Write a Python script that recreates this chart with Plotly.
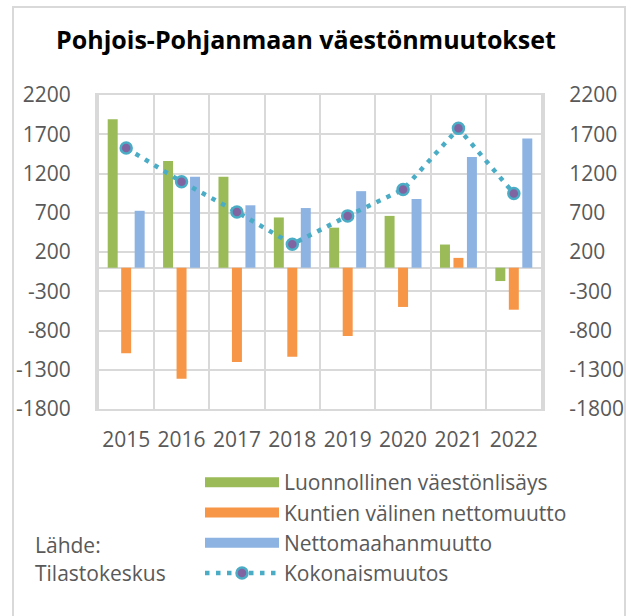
import plotly.graph_objects as go

years = ["2015", "2016", "2017", "2018", "2019", "2020", "2021", "2022"]
luonnollinen = [1890, 1360, 1160, 640, 510, 660, 295, -170]
kuntien = [-1090, -1415, -1200, -1135, -870, -500, 125, -535]
nettomaahan = [725, 1160, 795, 760, 975, 875, 1410, 1645]
kokonais = [1525, 1095, 710, 300, 660, 995, 1775, 945]
y_ticks = [-1800, -1300, -800, -300, 200, 700, 1200, 1700, 2200]

names = ["Luonnollinen väestönlisäys", "Kuntien välinen nettomuutto",
         "Nettomaahanmuutto", "Kokonaismuutos"]
colors = ["#9BBB59", "#F79646", "#8DB3E2"]
line_color = "#4BACC6"
marker_color = "#8064A2"
grid = "#D9D9D9"
txt = "#595959"
FONT = "'Open Sans', Lato, sans-serif"

fig = go.Figure()
for vals, nm, c in zip([luonnollinen, kuntien, nettomaahan], names[:3], colors):
    fig.add_trace(go.Bar(x=years, y=vals, name=nm, marker=dict(color=c, line=dict(width=0)),
                         showlegend=False))
# legend proxies (wide swatches)
for i, (nm, c) in enumerate(zip(names[:3], colors)):
    fig.add_trace(go.Scatter(x=[None], y=[None], mode="lines", name=nm,
                             line=dict(color=c, width=16), legendgroup=f"g{i}",
                             showlegend=True))
fig.add_trace(go.Scatter(x=years, y=kokonais, name=names[3], mode="lines+markers",
                         yaxis="y2", legendgroup="g3",
                         line=dict(color=line_color, width=4.5, dash="4.5px,6.5px"),
                         marker=dict(color=marker_color, size=11,
                                     line=dict(color=line_color, width=2.5))))

W, H = 627, 616
L, R, T, B = 97, 543, 95, 409
pw, ph = R - L, B - T

def px(x):
    return (x - L) / pw

def py(y):
    return (B - y) / ph

yax = dict(range=[-1800, 2200], tickvals=y_ticks, ticktext=[str(v) for v in y_ticks],
           showgrid=True, gridcolor=grid,
           gridwidth=2, zeroline=True, zerolinecolor=grid, zerolinewidth=2,
           showline=True, linecolor=grid, linewidth=2,
           ticks="outside", ticklen=20, tickcolor="rgba(0,0,0,0)",
           tickfont=dict(family=FONT, size=21, color=txt))

fig.update_layout(
    width=W, height=H,
    margin=dict(l=L, r=W - R, t=T, b=H - B, autoexpand=False),
    paper_bgcolor="white", plot_bgcolor="white",
    title=dict(text="<b>Pohjois-Pohjanmaan väestönmuutokset</b>", x=306 / W, xref="container",
               xanchor="center", y=1 - 40 / H, yref="container", yanchor="middle",
               font=dict(family=FONT, size=25, color="#000000")),
    barmode="group", bargap=0.27, bargroupgap=0.26,
    xaxis=dict(type="category", tickson="boundaries", showgrid=True, gridcolor=grid, gridwidth=2,
               showline=True, linecolor=grid, linewidth=2, mirror=True, tickangle=0,
               ticks="", ticklabelstandoff=11,
               tickfont=dict(family=FONT, size=21, color=txt)),
    yaxis=yax,
    yaxis2=dict(yax, overlaying="y", side="right", showgrid=False, zeroline=False),
    legend=dict(x=px(200), xanchor="left", y=py(462), yanchor="top",
                font=dict(family=FONT, size=21, color=txt), itemwidth=74,
                traceorder="grouped", tracegroupgap=0, bgcolor="rgba(0,0,0,0)"),
    showlegend=True,
    annotations=[
        dict(text="Lähde:", x=px(33), y=py(545), xref="paper", yref="paper", xanchor="left",
             yanchor="middle", showarrow=False, font=dict(family=FONT, size=21, color=txt)),
        dict(text="Tilastokeskus", x=px(33), y=py(573), xref="paper", yref="paper", xanchor="left",
             yanchor="middle", showarrow=False, font=dict(family=FONT, size=21, color=txt)),
    ],
    shapes=[dict(type="rect", xref="paper", yref="paper", x0=px(13), x1=px(625), y0=py(630), y1=py(7),
                 line=dict(color=grid, width=2), layer="below")],
)
fig.write_html("out.html", config={"displayModeBar": False},
               post_script="document.body.style.margin='0';")
